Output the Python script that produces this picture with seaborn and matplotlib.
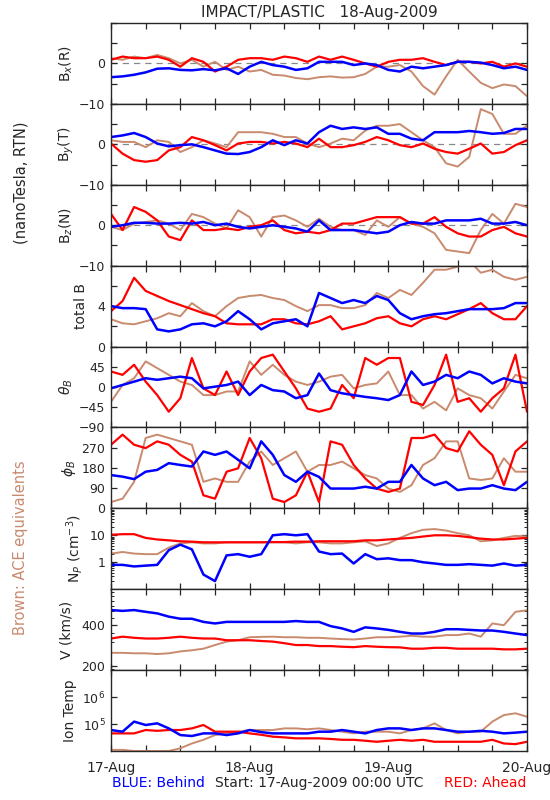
import numpy as np
import matplotlib
matplotlib.use('Agg')
import matplotlib.pyplot as plt
import seaborn as sns
from matplotlib.ticker import FixedLocator, FixedFormatter, NullFormatter, NullLocator

# hours since 17-Aug-2009 00:00 UTC, 2-hourly samples
hours = list(range(0, 73, 2))

# B_x (R), nT
bx_behind = [-3.4, -3.2, -2.8, -2.2, -1.3, -1.2, -1.6, -1.7, -1.4, -1.7, -1.2, -2.6, -0.8, 0.4, -0.4,
             -0.8, -1.6, -1.2, 0.4, 0.4, 0.4, -0.4, 0, -0.4, -1.6, -2.0, -0.8, -1.2, -0.8, -0.4, 0.4, 0.4,
             0.2, -0.4, -1.2, -0.8, -1.6]
bx_ahead = [0.9, 1.7, 1.3, 1.3, 1.7, 0.9, -0.8, 1.3, 0.4, -2.0, -0.8, 0.9, 1.3, 1.3, 0.9,
            1.7, 1.3, 0.4, 1.7, 0.9, 1.7, 0.9, 0, -0.8, 0.4, 0.9, 0.9, 1.3, 0.4, -0.4, 0.4, 0.4,
            0, 0.4, -0.8, 0, -0.8]
bx_ace = [1.3, 0.9, 1.7, 1.3, 2.1, 1.3, 0, 0.9, -0.8, 0.4, -1.6, -0.8, -2.0, -1.6, -2.8,
          -3.0, -3.6, -3.9, -3.4, -3.2, -3.5, -3.4, -2.6, -0.8, -0.8, -0.4, -2.0, -5.6, -7.7, -3.2, 0.9, -2.0,
          -4.8, -6.1, -5.2, -5.6, -8.1]

# B_y (T), nT
by_behind = [1.8, 2.2, 2.8, 1.8, 0.2, -0.5, -0.2, 0, -0.7, -1.5, -2.3, -2.4, -1.9, -0.7, 1.0,
             -0.2, 1.0, 0.2, 3.0, 4.6, 3.8, 4.2, 3.8, 4.2, 2.6, 2.6, 1.4, 1.0, 3.0, 3.0, 3.0, 3.3,
             3.0, 2.6, 2.8, 3.8, 3.8]
by_ahead = [0.2, -2.3, -3.9, -4.3, -3.9, -1.5, -0.7, 1.8, 1.0, -0.2, -1.5, 0.2, 0.6, 0.6, 0.2,
            0.6, 0.2, -0.7, 1.4, -0.7, -0.7, -0.2, 0.6, 1.8, 1.0, -0.2, -0.7, 0.2, -1.1, -1.9, -2.3, -1.1,
            0.2, -2.3, -1.9, -0.2, 1.0]
by_ace = [1.0, 0.6, 0.6, -0.7, 1.0, 0.6, -1.9, -0.7, 1.0, 0.2, -0.7, 3.0, 3.0, 3.0, 2.6,
          1.8, 1.8, 0.2, -0.7, 0.2, 1.4, 1.0, 3.4, 4.6, 4.6, 5.0, 3.0, 1.0, -0.7, -4.7, -5.5, -3.1,
          8.7, 7.5, 2.6, 2.6, 4.6]

# B_z (N), nT
bz_behind = [-0.4, 0, 0.6, 0.6, 0.4, 0.4, 0.6, 0.4, 0.8, 0, 0.4, -0.4, -0.8, -0.4, 0,
             -0.4, -0.8, -1.6, 1.2, -1.2, -1.2, -1.2, -1.6, -2.0, -1.6, 0, 0.8, 0.4, 0.4, 1.2, 1.2, 1.2,
             1.6, 0.4, 0.4, 0.8, 0]
bz_ahead = [2.8, -1.2, 4.5, 3.3, 1.2, -2.8, -3.7, 1.2, -1.2, -1.2, -0.8, -1.2, -0.4, 0, 1.2,
            -1.2, -2.0, -1.6, -2.0, -1.2, 0.4, 0.4, 1.2, 2.0, 2.0, 2.0, 0.4, 0.4, 2.0, -0.4, -2.0, -2.8,
            -2.8, -1.2, -0.4, -2.0, -2.8]
bz_ace = [-0.4, -1.2, 0.4, 0.8, 1.2, 0.4, -1.2, 2.8, 2.0, 0.4, -0.8, 3.7, 2.0, -2.8, 2.0,
          2.4, 1.2, -0.4, 1.6, -0.4, -1.2, -1.2, -2.4, 1.2, -0.4, 2.0, 0.4, -0.4, -2.0, -6.1, -6.5, -6.9,
          -1.2, 2.8, 0.4, 5.3, 4.5]

# total B, nT
bt_behind = [4.0, 3.8, 3.8, 3.7, 1.7, 1.5, 1.7, 2.2, 2.3, 2.0, 2.5, 3.5, 2.7, 1.7, 2.3,
             2.5, 2.7, 2.0, 5.3, 4.8, 4.3, 4.6, 4.3, 5.0, 4.6, 3.3, 2.7, 3.0, 3.2, 3.3, 3.5, 3.7,
             3.7, 3.7, 3.8, 4.3, 4.3]
bt_ahead = [3.5, 4.5, 6.8, 5.5, 5.0, 4.5, 4.1, 3.7, 3.3, 3.0, 2.3, 2.2, 2.2, 2.2, 2.7,
            2.7, 2.3, 2.2, 2.5, 3.0, 1.7, 2.0, 2.3, 2.8, 3.0, 2.3, 2.0, 2.7, 3.0, 2.7, 3.2, 3.7,
            4.3, 3.3, 2.7, 2.7, 4.0]
bt_ace = [2.7, 2.3, 2.2, 2.5, 2.8, 3.3, 3.0, 4.3, 3.5, 3.0, 4.0, 4.8, 5.0, 5.1, 4.8,
          4.6, 4.0, 3.5, 4.1, 4.1, 3.8, 3.8, 4.1, 5.3, 4.8, 5.6, 5.1, 6.3, 7.6, 7.6, 7.9, 8.5,
          7.3, 7.6, 6.9, 6.6, 6.9]

# theta_B, deg
th_behind = [-3, 4.5, 12, 19.5, 16, 19.5, 23, 19.5, -3, 0.75, 4.5, 12, -18, 4.5, -7, -10, -25, -18, 30,
             -7, -14, -18, -22, -25, -29, -18, 34.5, 4.5, 12, 27, 19.5, 34.5, 27, 8, 19.5, 12, 8]
th_ahead = [34.5, 27, 49.5, 12, -18, -55, -25, 64.5, -3, -18, 34.5, -18, 34.5, 64.5, 72, 34.5, -3, -48, -55,
            -48, 4.5, -25, 64.5, 49.5, 64.5, 64.5, -33, -40, 4.5, 72, -33, -25, -55, -25, -3, 72, -55]
th_ace = [-33, 4.5, 19.5, 57, 42, 27, 12, 4.5, -18, -18, -10, -10, 57, 27, 49.5, 27, 12, 4.5, 12,
          23, 27, -3, 4.5, 8, 34.5, -18, -18, -48, -33, -52, -3, -18, -25, -48, -10, 27, 19.5]

# phi_B, deg
ph_behind = [148, 141, 130, 163, 171, 201, 193, 186, 253, 238, 253, 216, 178, 298, 238, 148, 118, 163, 140,
             88, 88, 88, 96, 88, 118, 118, 193, 133, 103, 118, 81, 88, 88, 103, 88, 81, 118]
ph_ahead = [283, 328, 283, 268, 298, 283, 238, 208, 58, 43, 163, 178, 313, 223, 43, 28, 58, 163, 28,
            298, 283, 193, 133, 88, 73, 88, 313, 313, 328, 268, 253, 343, 283, 238, 103, 253, 298]
ph_ace = [28, 43, 118, 313, 328, 313, 298, 283, 118, 133, 118, 118, 208, 253, 193, 223, 253, 163, 193,
          193, 208, 178, 148, 133, 88, 73, 103, 193, 223, 298, 298, 133, 126, 133, 223, 163, 163]

# proton density, cm^-3
np_behind = [0.8, 0.8, 0.7, 0.75, 0.8, 2.8, 4.5, 3, 0.35, 0.2, 1.8, 2.0, 1.6, 2.0, 10, 11, 10, 11, 2.5,
             2.0, 2.1, 0.9, 2.0, 1.3, 1.4, 1.2, 1.2, 1.0, 0.9, 0.8, 0.8, 0.85, 0.8, 0.75, 0.9, 0.75, 0.8]
np_ahead = [10.5, 11, 11, 8, 7, 6.5, 6, 5.8, 5.5, 5.5, 5.5, 5.5, 5.5, 5.5, 5.6, 5.6, 5.8, 5.8, 6,
            6, 6, 6, 6.5, 6.5, 7, 7.5, 8, 9, 10, 10, 9.5, 8.5, 7.5, 7, 7, 7.5, 8]
np_ace = [2.1, 2.4, 2.1, 2.0, 2.0, 3.5, 5, 5.5, 5, 5, 5.5, 5.5, 5.5, 5.5, 5.5, 5.5, 5.0, 5.5, 5.5,
          5, 5, 5.5, 6, 4, 5, 8, 12, 16, 17, 15, 12, 10, 6, 6.5, 8, 9.5, 9]

# bulk speed, km/s
v_behind = [512, 505, 512, 497, 484, 458, 442, 442, 419, 408, 419, 419, 419, 419, 419, 419, 425, 419, 419,
            390, 375, 354, 382, 375, 366, 354, 344, 344, 354, 370, 370, 366, 362, 362, 354, 344, 335]
v_ahead = [316, 326, 320, 316, 316, 320, 326, 320, 316, 316, 307, 307, 307, 303, 300, 292, 283, 283, 278,
           278, 275, 273, 278, 275, 273, 272, 266, 266, 270, 270, 266, 266, 266, 266, 263, 263, 266]
v_ace = [248, 248, 246, 246, 243, 246, 254, 259, 266, 283, 300, 307, 323, 325, 326, 323, 323, 320, 320,
         316, 313, 311, 316, 323, 323, 326, 331, 326, 326, 335, 335, 344, 326, 408, 396, 497, 510]

# ion temperature, K
t_behind = [6.0e4, 5.2e4, 1.23e5, 9.2e4, 1.06e5, 6.9e4, 3.9e4, 3.6e4, 4.5e4, 4.5e4, 3.9e4, 4.5e4, 6.0e4,
            5.0e4, 4.5e4, 4.5e4, 4.5e4, 4.5e4, 5.2e4, 5.2e4, 6.0e4, 5.2e4, 4.5e4, 6.0e4, 6.9e4, 6.9e4,
            6.0e4, 6.9e4, 6.9e4, 6.0e4, 5.2e4, 5.2e4, 5.6e4, 5.2e4, 4.5e4, 4.8e4, 5.2e4]
t_ahead = [4.5e4, 4.5e4, 4.5e4, 6.0e4, 5.6e4, 6.0e4, 6.0e4, 6.9e4, 9.2e4, 5.2e4, 5.2e4, 5.2e4, 4.5e4,
           4.0e4, 3.4e4, 3.2e4, 2.95e4, 2.95e4, 2.95e4, 2.8e4, 2.6e4, 2.6e4, 2.4e4, 2.2e4, 2.4e4, 2.6e4,
           2.4e4, 2.6e4, 2.2e4, 2.2e4, 2.2e4, 2.2e4, 2.2e4, 2.6e4, 1.9e4, 1.8e4, 2.2e4]
t_ace = [1.1e4, 1.1e4, 1.0e4, 1.0e4, 1.0e4, 1.0e4, 1.26e4, 1.9e4, 2.6e4, 3.9e4, 4.5e4, 5.2e4, 6.0e4,
         6.0e4, 6.0e4, 6.9e4, 6.9e4, 6.4e4, 6.9e4, 6.0e4, 5.2e4, 4.5e4, 5.2e4, 5.2e4, 5.2e4, 4.5e4,
         6.0e4, 6.9e4, 1.06e5, 6.0e4, 4.5e4, 5.2e4, 5.2e4, 1.23e5, 2.15e5, 2.5e5, 1.87e5]

day_labels = ['17-Aug', '18-Aug', '19-Aug', '20-Aug']

BROWN = '#C98A6E'
RED = '#FF0000'
BLUE = '#0000FF'

sns.set_style('ticks')
plt.rcParams['font.family'] = ['DejaVu Sans']

# (ace, ahead, behind, label, label x, ylim, ticks, tick labels, log, zero line)
panels = [
    (bx_ace, bx_ahead, bx_behind, r'B$_x$(R)', -0.108, (-10, 10), [-10, -5, 0, 5, 10], ['\u221210', '', '0', '', ''], False, True),
    (by_ace, by_ahead, by_behind, r'B$_y$(T)', -0.108, (-10, 10), [-10, -5, 0, 5, 10], ['\u221210', '', '0', '', ''], False, True),
    (bz_ace, bz_ahead, bz_behind, r'B$_z$(N)', -0.108, (-10, 10), [-10, -5, 0, 5, 10], ['\u221210', '', '0', '', ''], False, True),
    (bt_ace, bt_ahead, bt_behind, 'total B', -0.072, (0, 8), [0, 2, 4, 6, 8], ['0', '', '4', '', ''], False, False),
    (th_ace, th_ahead, th_behind, r'$\theta_B$', -0.108, (-90, 90), [-90, -45, 0, 45, 90], ['\u221290', '\u221245', '0', '45', ''], False, False),
    (ph_ace, ph_ahead, ph_behind, r'$\phi_B$', -0.10, (0, 360), [0, 90, 180, 270, 360], ['0', '90', '180', '270', ''], False, False),
    (np_ace, np_ahead, np_behind, r'N$_P$ (cm$^{-3}$)', -0.088, (0.1, 100), [1, 10], ['1', '10'], True, False),
    (v_ace, v_ahead, v_behind, 'V (km/s)', -0.106, (185, 729), [200, 400], ['200', '400'], True, False),
    (t_ace, t_ahead, t_behind, 'Ion Temp', -0.099, (1e4, 1e7), [1e5, 1e6], [r'10$^5$', r'10$^6$'], True, False),
]

fig, axes = plt.subplots(9, 1, figsize=(5.5, 8), dpi=100, sharex=True,
                         gridspec_kw={'hspace': 0})
fig.subplots_adjust(left=111 / 550, right=527 / 550, top=1 - 23 / 800, bottom=1 - 751 / 800)

for ax, (ace, ahead, behind, label, lx, ylim, ticks, ticklabels, logy, zero) in zip(axes, panels):
    if zero:
        ax.axhline(0, color='#888888', lw=0.9, ls=(0, (5, 4)), zorder=0)
    sns.lineplot(x=hours, y=ace, color=BROWN, lw=1.4, ax=ax, legend=False)
    sns.lineplot(x=hours, y=ahead, color=RED, lw=1.6, ax=ax, legend=False)
    sns.lineplot(x=hours, y=behind, color=BLUE, lw=1.8, ax=ax, legend=False)
    if logy:
        ax.set_yscale('log')
    ax.set_ylim(*ylim)
    ax.yaxis.set_major_locator(FixedLocator(ticks))
    ax.yaxis.set_major_formatter(FixedFormatter(ticklabels))
    if label.startswith('N'):
        ax.yaxis.set_minor_locator(FixedLocator(
            [k * 10.0 ** e for e in (-1, 0, 1) for k in range(2, 10)]))
    elif label.startswith('V'):
        ax.yaxis.set_minor_locator(FixedLocator([190, 250, 300, 350, 450, 500, 550, 600, 650, 700]))
    else:
        ax.yaxis.set_minor_locator(NullLocator())
    ax.yaxis.set_minor_formatter(NullFormatter())
    ax.set_ylabel('')
    ax.text(lx, 0.5, label, transform=ax.transAxes, rotation=90,
            ha='center', va='center', fontsize=10)
    ax.tick_params(axis='both', which='major', direction='in', top=True, right=True,
                   length=4, width=0.9, labelsize=9, pad=4)
    ax.tick_params(axis='y', which='minor', direction='in', right=True, length=2.5, width=0.7)
    for s in ax.spines.values():
        s.set_linewidth(1.0)
        s.set_visible(True)

axes[-1].set_xlim(0, 72)
axes[-1].set_xticks(range(0, 73, 6))
axes[-1].set_xticklabels([day_labels[i // 4] if i % 4 == 0 else '' for i in range(13)], fontsize=10)
axes[-1].tick_params(axis='x', pad=7)
axes[-1].set_xlabel('')

fig.text(319 / 550, 1 - 12 / 800, 'IMPACT/PLASTIC   18-Aug-2009', ha='center', va='center', fontsize=11)
fig.text(21 / 550, 1 - 183 / 800, '(nanoTesla, RTN)', rotation=90, ha='center', va='center', fontsize=10.5)
fig.text(21 / 550, 1 - 548 / 800, 'Brown: ACE equivalents', rotation=90, ha='center', va='center',
         fontsize=10.5, color=BROWN)
fig.text(112 / 550, 1 - 783 / 800, 'BLUE: Behind', ha='left', va='center', fontsize=10, color=BLUE)
fig.text(319 / 550, 1 - 783 / 800, 'Start: 17-Aug-2009 00:00 UTC', ha='center', va='center', fontsize=10)
fig.text(526 / 550, 1 - 783 / 800, 'RED: Ahead', ha='right', va='center', fontsize=10, color=RED)

fig.savefig('out.png', dpi=100)
